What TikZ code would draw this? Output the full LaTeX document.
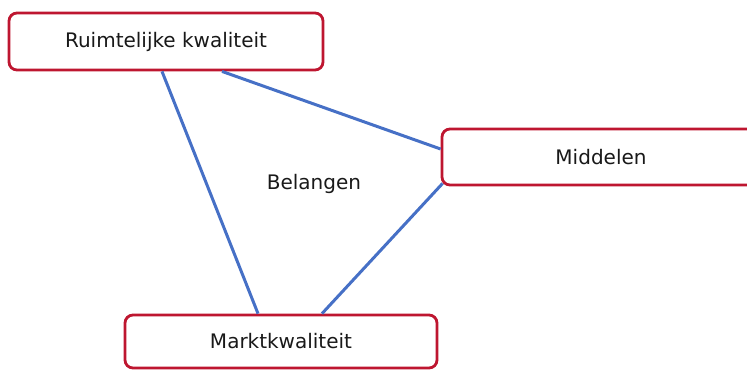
\documentclass[tikz,border=0pt]{standalone}
\usepackage{fontspec}
\setmainfont{DejaVu Sans}
\definecolor{boxred}{HTML}{BE1630}
\definecolor{linkblue}{HTML}{4670C6}
\begin{document}
\begin{tikzpicture}[x=1pt,y=-1pt,
  box/.style={draw=boxred,line width=2.8pt,rounded corners=8pt,fill=white,
    inner sep=0pt,font=\fontsize{20}{24}\selectfont,text=black!90},
  link/.style={draw=linkblue,line width=3pt},
  lbl/.style={font=\fontsize{20}{24}\selectfont,text=black!90}]
\useasboundingbox (0,0) rectangle (747,370);
\begin{scope}
\clip (0,0) rectangle (747,370);
\node[box,minimum width=314pt,minimum height=57pt] (rk) at (166,41.5) {Ruimtelijke kwaliteit\hspace{6pt}};
\node[box,minimum width=318pt,minimum height=56pt] (md) at (601,157) {Middelen};
\node[box,minimum width=312pt,minimum height=53pt] (mk) at (281,341.5) {Marktkwaliteit};
\node[lbl] (bl) at (314,184) {Belangen};
\draw[link] ([xshift=-4pt]rk.south) -- ([xshift=-23pt]mk.north);
\draw[link] ([xshift=56pt]rk.south) -- ([yshift=8pt]md.west);
\draw[link] ([xshift=2pt,yshift=3pt]md.south west) -- ([xshift=41pt]mk.north);
\end{scope}
\end{tikzpicture}
\end{document}
